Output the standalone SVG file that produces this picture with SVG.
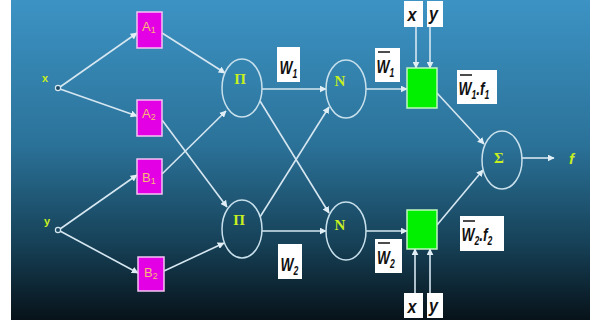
<svg xmlns="http://www.w3.org/2000/svg" width="594" height="323" viewBox="0 0 594 323">
<defs>
<linearGradient id="bg" x1="0" y1="0" x2="0" y2="1">
<stop offset="0" stop-color="#3c93c4"/>
<stop offset="0.45" stop-color="#2b7299"/>
<stop offset="0.75" stop-color="#17435a"/>
<stop offset="1" stop-color="#071219"/>
</linearGradient>
<marker id="ah" viewBox="0 0 10 10" refX="9" refY="5" markerWidth="7" markerHeight="7" markerUnits="userSpaceOnUse" orient="auto">
<path d="M0,0 L10,5 L0,10 z" fill="#e2eef5"/>
</marker>
<style>
.c{fill:none;stroke:#d6e7f1;stroke-width:1.6;marker-end:url(#ah)}
.mf{fill:#e400e4;stroke:#f4c4f4;stroke-width:1.5}
.mt{fill:#f8b878;font-family:"Liberation Sans",Arial,sans-serif;font-size:13px}
.ms{font-size:9px}
.el{fill:none;stroke:#c8e0ec;stroke-width:1.5}
.gl{fill:#c8f020;font-family:"Liberation Serif",serif;font-size:15px;font-weight:bold;text-anchor:middle}
.gb{fill:#00f000;stroke:#c0f8c0;stroke-width:1.5}
.lb{fill:#ffffff}
.lt{fill:#111;font-family:"Liberation Sans",Arial,sans-serif;font-weight:bold;font-style:italic;font-size:19px}
.ls{font-size:12px}
.ol{stroke:#111;stroke-width:1.5}
.in{fill:#1d4a63;stroke:#d6e7f1;stroke-width:1.2}
.il{fill:#c8f020;font-family:"Liberation Sans",Arial,sans-serif;font-size:11px;font-weight:bold}
</style>
</defs>
<rect x="0" y="0" width="594" height="323" fill="#ffffff"/>
<rect x="11" y="0" width="579" height="320" fill="url(#bg)"/>

<g id="connectors">
<line class="c" x1="60" y1="87" x2="137" y2="33"/>
<line class="c" x1="60" y1="89" x2="137" y2="116"/>
<line class="c" x1="60" y1="229" x2="137" y2="175"/>
<line class="c" x1="60" y1="231" x2="138" y2="273"/>
<line class="c" x1="162" y1="33" x2="225" y2="73"/>
<line class="c" x1="162" y1="174" x2="226" y2="111"/>
<line class="c" x1="162" y1="120" x2="227" y2="207"/>
<line class="c" x1="164" y1="271" x2="224" y2="243"/>
<line class="c" x1="262" y1="89" x2="326" y2="89"/>
<line class="c" x1="260" y1="101" x2="329" y2="213"/>
<line class="c" x1="260" y1="217" x2="329" y2="107"/>
<line class="c" x1="262" y1="231" x2="326" y2="231"/>
<line class="c" x1="366" y1="89" x2="407" y2="89"/>
<line class="c" x1="366" y1="231" x2="407" y2="231"/>
<line class="c" x1="437" y1="93" x2="484" y2="144"/>
<line class="c" x1="437" y1="225" x2="483" y2="170"/>
<line class="c" x1="522" y1="158" x2="554" y2="158"/>
<line class="c" x1="416" y1="27" x2="416" y2="68"/>
<line class="c" x1="430" y1="27" x2="430" y2="68"/>
<line class="c" x1="415" y1="293" x2="415" y2="249"/>
<line class="c" x1="430" y1="293" x2="430" y2="249"/>
</g>

<g id="x_in"><circle class="in" cx="58" cy="88" r="2.6"/><text class="il" x="42" y="82">x</text></g>
<g id="y_in"><circle class="in" cx="58" cy="230" r="2.6"/><text class="il" x="44" y="225">y</text></g>

<g id="A1"><rect class="mf" x="137" y="12" width="25" height="36"/><text class="mt" x="142" y="31">A<tspan class="ms" dy="2">1</tspan></text></g>
<g id="A2"><rect class="mf" x="137" y="100" width="25" height="36"/><text class="mt" x="142" y="118">A<tspan class="ms" dy="2">2</tspan></text></g>
<g id="B1"><rect class="mf" x="137" y="159" width="25" height="35"/><text class="mt" x="142" y="182">B<tspan class="ms" dy="2">1</tspan></text></g>
<g id="B2"><rect class="mf" x="138" y="257" width="26" height="34"/><text class="mt" x="144" y="277">B<tspan class="ms" dy="2">2</tspan></text></g>

<g id="Pi1"><ellipse class="el" cx="242" cy="88" rx="20" ry="29"/><text class="gl" x="240" y="84">Π</text></g>
<g id="Pi2"><ellipse class="el" cx="242" cy="229" rx="20" ry="29"/><text class="gl" x="239" y="225">Π</text></g>
<g id="N1"><ellipse class="el" cx="346" cy="89" rx="20" ry="29"/><text class="gl" x="340" y="86">N</text></g>
<g id="N2"><ellipse class="el" cx="346" cy="231" rx="20" ry="29"/><text class="gl" x="340" y="230">N</text></g>
<g id="Sigma"><ellipse class="el" cx="502" cy="160" rx="20" ry="29"/><text class="gl" x="499" y="163">Σ</text></g>
<g id="f_out"><text x="569" y="164" fill="#c8f020" font-family="Liberation Sans,Arial,sans-serif" font-style="italic" font-weight="bold" font-size="15">f</text></g>

<g id="G1"><rect class="gb" x="407" y="68" width="30" height="40"/></g>
<g id="G2"><rect class="gb" x="407" y="210" width="30" height="39"/></g>

<g id="lbl_w1"><rect class="lb" x="277" y="47" width="23" height="35"/><text class="lt" transform="translate(279.5,74) scale(0.72,1)">W<tspan class="ls" dy="4">1</tspan></text></g>
<g id="lbl_w2"><rect class="lb" x="278" y="244" width="24" height="35"/><text class="lt" transform="translate(280.5,271) scale(0.72,1)">W<tspan class="ls" dy="4">2</tspan></text></g>
<g id="lbl_wb1"><rect class="lb" x="375" y="48" width="25" height="34"/><line class="ol" x1="378" y1="52" x2="390" y2="52"/><text class="lt" transform="translate(376.5,73) scale(0.72,1)">W<tspan class="ls" dy="4">1</tspan></text></g>
<g id="lbl_wb2"><rect class="lb" x="375" y="239" width="27" height="34"/><line class="ol" x1="378" y1="243" x2="390" y2="243"/><text class="lt" transform="translate(377,264) scale(0.72,1)">W<tspan class="ls" dy="4">2</tspan></text></g>
<g id="lbl_wf1"><rect class="lb" x="457" y="70" width="40" height="34"/><line class="ol" x1="460" y1="75" x2="472" y2="75"/><text class="lt" transform="translate(458.5,95) scale(0.72,1)">W<tspan class="ls" dy="4">1</tspan><tspan dy="-4">.f</tspan><tspan class="ls" dy="4">1</tspan></text></g>
<g id="lbl_wf2"><rect class="lb" x="460" y="216" width="44" height="35"/><line class="ol" x1="463" y1="221" x2="475" y2="221"/><text class="lt" transform="translate(461.5,241) scale(0.72,1)">W<tspan class="ls" dy="4">2</tspan><tspan dy="-4">.f</tspan><tspan class="ls" dy="4">2</tspan></text></g>

<g id="lbl_x_top"><rect class="lb" x="404" y="1" width="19" height="26"/><text class="lt" transform="translate(407.5,21) scale(0.85,1)">x</text></g>
<g id="lbl_y_top"><rect class="lb" x="427" y="1" width="16" height="26"/><text class="lt" transform="translate(429,20) scale(0.85,1)">y</text></g>
<g id="lbl_x_bot"><rect class="lb" x="404" y="293" width="19" height="25"/><text class="lt" transform="translate(407.5,313) scale(0.85,1)">x</text></g>
<g id="lbl_y_bot"><rect class="lb" x="427" y="293" width="16" height="25"/><text class="lt" transform="translate(429,312) scale(0.85,1)">y</text></g>
</svg>
